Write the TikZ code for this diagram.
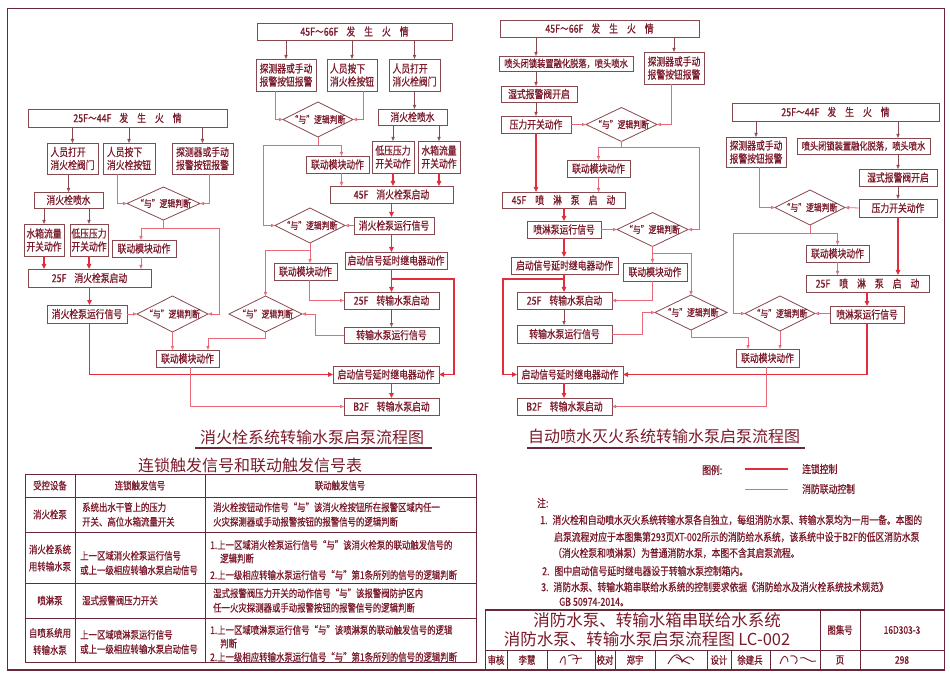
\documentclass[tikz,border=0pt]{standalone}
\usepackage{fontspec}
\setmainfont{Noto Sans CJK SC}
\newfontfamily\cnc[FakeStretch=0.8,FakeBold=0.7]{Noto Sans CJK SC}
\usetikzlibrary{arrows.meta,shapes.geometric,calc}
\definecolor{txt}{RGB}{122,26,42}
\definecolor{bline}{RGB}{135,72,78}
\definecolor{rd}{RGB}{228,45,60}
\definecolor{pk}{RGB}{232,105,120}
\definecolor{frm}{RGB}{105,40,55}
\tikzset{
 box/.style={draw=bline, line width=0.8pt, inner sep=0pt, outer sep=0pt, text=txt, font=\cnc\fontsize{11}{13}\selectfont, align=center},
 dia/.style={draw=bline, line width=0.8pt, shape=diamond, inner sep=0pt, outer sep=0pt},
 dtxt/.style={text=txt, font=\cnc\fontsize{9.8}{11}\selectfont, inner sep=0pt},
 pline/.style={draw=pk, line width=0.8pt, -{Triangle[open,length=4pt,width=3.2pt]}},
 barr/.style={draw=bline, line width=0.8pt, -{Triangle[open,length=4pt,width=3.2pt]}},
 rline/.style={draw=rd, line width=1.8pt, -{Triangle[length=5pt,width=4.5pt]}},
 ttl/.style={text=txt, font=\fontsize{16}{18}\selectfont, inner sep=0pt},
 tb/.style={text=txt, font=\cnc\fontsize{10.5}{14.5}\selectfont, inner sep=0pt, align=left},
 nt/.style={text=txt, font=\cnc\fontsize{11}{14}\selectfont, inner sep=0pt, anchor=west},
 frmline/.style={draw=frm, line width=1pt},
 sig/.style={draw=txt, line width=0.9pt},
}
\newcommand\mybox[7][]{\node[box,#1,minimum width={#5-#3},minimum height={#6-#4}] (#2) at ({(#3+#5)/2},{(#4+#6)/2}) {#7};}
\newcommand\mydia[5]{\node[dia,minimum width=#4,minimum height=#5] (#1) at (#2,#3) {};\node[dtxt] (#1t) at (#1) {“与”逻辑判断};}
\newcommand\fire[1]{#1\hspace{8pt}发\hspace{9pt}生\hspace{9pt}火\hspace{9pt}情}
\begin{document}
\begin{tikzpicture}[x=1pt,y=-1pt]
\useasboundingbox (0,0) rectangle (950,676);
% frame
\draw[frmline] (7,669) -- (7,9) -- (944,9) -- (944,669);
\draw[draw=frm, line width=2pt] (7,669.5) -- (945,669.5);

%================ LEFT CHART =================
\mybox{L0}{257}{23}{452}{40}{\fire{45F～66F}}
\mybox{La1}{256}{59}{316}{91}{探测器或手动\\报警按钮报警}
\mybox[align=left]{La2}{327}{59}{377}{91}{人员按下\\消火栓按钮}
\mybox[align=left]{La3}{389}{59}{440}{91}{人员打开\\消火栓阀门}
\mybox{La4}{378}{109}{447}{125}{消火栓喷水}
\mybox{La5}{372}{141}{414}{173}{低压压力\\开关动作}
\mybox{La6}{418}{141}{460}{173}{水箱流量\\开关动作}
\mybox{La7}{306}{156}{369}{173}{联动模块动作}
\mybox{La8}{330}{186}{453}{203}{45F\hspace{8pt}消火栓泵启动}
\mybox{La9}{354}{217}{434}{234}{消火栓泵运行信号}
\mybox{La10}{345}{252}{447}{269}{启动信号延时继电器动作}
\mybox{La11}{274}{263}{337}{280}{联动模块动作}
\mybox{La12}{344}{292}{439}{309}{25F\hspace{8pt}转输水泵启动}
\mybox{La13}{344}{327}{439}{343}{转输水泵运行信号}
\mydia{Ld1}{318}{119.5}{70}{35}
\mydia{Ld2}{310}{225.5}{70}{35}
\mydia{Ld3}{265.5}{314}{73}{36}

\mybox{Lb0}{28}{109}{227}{127}{\fire{25F～44F}}
\mybox[align=left]{Lb2}{47}{143}{98}{174}{人员打开\\消火栓阀门}
\mybox[align=left]{Lb3}{103}{143}{155}{174}{人员按下\\消火栓按钮}
\mybox{Lb4}{172}{143}{233}{174}{探测器或手动\\报警按钮报警}
\mybox{Lb5}{34}{192}{103}{208}{消火栓喷水}
\mydia{Ldb1}{163.5}{203.5}{73}{33}
\mybox{Lb6}{24}{224}{64}{256}{水箱流量\\开关动作}
\mybox{Lb7}{70}{224}{108}{256}{低压压力\\开关动作}
\mybox{Lb8}{112}{240}{176}{257}{联动模块动作}
\mybox{Lb9}{28}{269}{151}{287}{25F\hspace{8pt}消火栓泵启动}
\mybox{Lb10}{47}{305}{127}{323}{消火栓泵运行信号}
\mydia{Ldb2}{172.5}{314}{71}{36}
\mybox{Lb11}{156}{350}{219}{367}{联动模块动作}
\mybox{Lc1}{333}{366}{439}{383}{启动信号延时继电器动作}
\mybox{Lc2}{344}{398}{439}{415}{B2F\hspace{8pt}转输水泵启动}

% brown arrows
\draw[barr] (La1 |- L0.south) -- (La1.north);
\draw[barr] (La2 |- L0.south) -- (La2.north);
\draw[barr] (La3 |- L0.south) -- (La3.north);
\draw[barr] (La3.south) -- (La3.south |- La4.north);
\draw[barr] (La5 |- La4.south) -- (La5.north);
\draw[barr] (La6 |- La4.south) -- (La6.north);
\draw[barr] (Lb2 |- Lb0.south) -- (Lb2.north);
\draw[barr] (Lb3 |- Lb0.south) -- (Lb3.north);
\draw[barr] (Lb4 |- Lb0.south) -- (Lb4.north);
\draw[barr] (Lb5 |- Lb2.south) -- (Lb5.north);
\draw[barr] (Lb6 |- Lb5.south) -- (Lb6.north);
\draw[barr] (Lb7 |- Lb5.south) -- (Lb7.north);
\draw[barr] (La12.south -| La8) -- (La8 |- La13.north);

% thick red
\draw[rline] (La5.south) -- (La5.south |- La8.north);
\draw[rline] (La6.south) -- (La6.south |- La8.north);
\draw[rline] (La8.south) -- (La8.south |- La9.north);
\draw[rline] (La9.south -| La8) -- (La8 |- La10.north);
\draw[rline] (La10.south -| La8) -- (La8 |- La12.north);
\coordinate (cR1) at (454,279);
\draw[rline] (La8 |- cR1) -- (cR1) |- (Lc1.east);
\draw[rline] (Lc1.south -| La8) -- (La8 |- Lc2.north);
\draw[rline] (Lb6.south) -- (Lb6.south |- Lb9.north);
\draw[rline] (Lb7.south) -- (Lb7.south |- Lb9.north);
\draw[rline] (Lb9.south) -- (Lb9.south |- Lb10.north);
\draw[rline] (Lb10.south -| Lb9) |- (Lc1.west);

% pink
\coordinate (cL1) at (263,145);
\draw[pline] ([xshift=-11]La1.south) |- (Ld1.west);
\draw[pline] ([xshift=11]La2.south) |- (Ld1.east);
\draw[pline] (Ld1.south) |- (cL1) |- (Ld2.west);
\draw[pline] (cL1 -| Ld1.south) -| ([xshift=4]La7.north);
\draw[pline] ([xshift=4]La7.south) -- ([xshift=4]La7.south |- La8.north);
\draw[pline] (La9.west) -- (Ld2.east);
\coordinate (cL2) at (266,250);
\draw[pline] (Ld2.south) -- (Ld2.south |- La11.north);
\draw[pline] (cL2 -| Ld2.south) -| (Ld3.north);
\draw[pline] ([xshift=4]La11.south) |- (La12.west);
\coordinate (cL3) at (315,314);
\draw[pline] (La13.west) -| (cL3) -- (Ld3.east);
\coordinate (cL4) at (208,338);
\draw[pline] (Ld3.south) |- (cL4) -- (cL4 |- Lb11.north);
\coordinate (cL5) at (141,228);
\coordinate (cL6) at (219,228);
\draw[pline] (Ldb1.south) |- (cL5) -- (cL5 |- Lb8.north);
\draw[pline] (cL5 -| Ldb1.south) -- (cL6) |- (Ldb2.east);
\draw[pline] (cL5 |- Lb8.south) -- (cL5 |- Lb9.north);
\draw[pline] ([xshift=-12]Lb3.south) |- (Ldb1.west);
\draw[pline] ([xshift=6.5]Lb4.south) |- (Ldb1.east);
\draw[pline] (Lb10.east) -- (Ldb2.west);
\draw[pline] (Ldb2.south) -- (Ldb2.south |- Lb11.north);
\draw[pline] ([xshift=3]Lb11.south) |- (Lc2.west);

%================ RIGHT CHART =================
\mybox{R0}{500}{20}{699}{37}{\fire{45F～66F}}
\mybox{Ra1}{499}{56}{633}{71}{\fontsize{10.3}{12}\selectfont 喷头闭锁装置融化脱落，喷头喷水}
\mybox{Ra2}{644}{52}{704}{84}{探测器或手动\\报警按钮报警}
\mybox{Ra3}{501}{86}{577}{102}{湿式报警阀开启}
\mybox{Ra4}{501}{116}{571}{133}{压力开关动作}
\mydia{Rd1}{621.5}{124.5}{71}{34}
\mybox{Ra5}{567}{160}{630}{177}{联动模块动作}
\mybox{Ra6}{502}{192}{625}{208}{45F\hspace{9pt}喷\hspace{9pt}淋\hspace{9pt}泵\hspace{9pt}启\hspace{9pt}动}
\mybox{Ra7}{527}{221}{601}{238}{喷淋泵运行信号}
\mydia{Rd2}{652.5}{229.5}{71}{34}
\mybox{Ra8}{511}{257}{618}{274}{启动信号延时继电器动作}
\mybox{Ra9}{623}{263}{687}{281}{联动模块动作}
\mybox{Ra10}{517}{292}{612}{309}{25F\hspace{8pt}转输水泵启动}
\mybox{Ra11}{517}{325}{612}{343}{转输水泵运行信号}
\mydia{Rd3}{691}{312.5}{72}{35}
\mybox{Ra12}{517}{366}{623}{383}{启动信号延时继电器动作}
\mybox{Ra13}{517}{398}{612}{415}{B2F\hspace{8pt}转输水泵启动}

\mybox{Rb0}{732}{103}{939}{121}{\fire{25F～44F}}
\mybox{Rb2}{726}{137}{786}{167}{探测器或手动\\报警按钮报警}
\mybox{Rb3}{797}{138}{930}{154}{\fontsize{10.3}{12}\selectfont 喷头闭锁装置融化脱落，喷头喷水}
\mybox{Rb4}{859}{169}{937}{186}{湿式报警阀开启}
\mybox{Rb5}{859}{199}{937}{217}{压力开关动作}
\mydia{Rd5}{810}{207.5}{70}{35}
\mybox{Rb6}{806}{245}{869}{262}{联动模块动作}
\mybox{Rb8}{806}{275}{929}{292}{25F\hspace{9pt}喷\hspace{9pt}淋\hspace{9pt}泵\hspace{9pt}启\hspace{9pt}动}
\mybox{Rb9}{830}{306}{904}{323}{喷淋泵运行信号}
\mydia{Rd4}{780}{313.5}{70}{35}
\mybox{Rb7}{736}{349}{799}{367}{联动模块动作}

% brown
\draw[barr] (Ra4 |- R0.south) -- (Ra4 |- Ra1.north);
\draw[barr] (Ra2 |- R0.south) -- (Ra2.north);
\draw[barr] (Ra4 |- Ra1.south) -- (Ra4 |- Ra3.north);
\draw[barr] (Ra4 |- Ra3.south) -- (Ra4.north);
\draw[barr] (Rb2 |- Rb0.south) -- (Rb2.north);
\draw[barr] (Rb4 |- Rb0.south) -- (Rb4 |- Rb3.north);
\draw[barr] (Rb4 |- Rb3.south) -- (Rb4.north);
\draw[barr] (Rb4.south) -- (Rb5.north);
\draw[barr] (Ra10.south -| Ra7) -- (Ra7 |- Ra11.north);

% thick red
\draw[rline] (Ra4.south) -- (Ra4.south |- Ra6.north);
\draw[rline] (Ra7 |- Ra6.south) -- (Ra7.north);
\draw[rline] (Ra7.south) -- (Ra7.south |- Ra8.north);
\draw[rline] (Ra7 |- Ra8.south) -- (Ra7 |- Ra10.north);
\coordinate (cR2) at (503,279);
\draw[rline] (Ra7 |- cR2) -- (cR2) |- (Ra12.west);
\draw[rline] (Ra7 |- Ra12.south) -- (Ra7 |- Ra13.north);
\draw[rline] (Rb5.south) -- (Rb5.south |- Rb8.north);
\draw[rline] (Rb9 |- Rb8.south) -- (Rb9.north);
\draw[rline] (Rb9.south) |- (Ra12.east);

% pink
\draw[pline] (Ra4.east) -- (Rd1.west);
\draw[pline] ([xshift=-3]Ra2.south) |- (Rd1.east);
\coordinate (cR3) at (699,147);
\draw[pline] (Rd1.south) |- (cR3) |- (Rd2.east);
\draw[pline] (cR3 -| Rd1.south) -| (Ra5.north);
\draw[pline] (Ra5.south) -- (Ra5.south |- Ra6.north);
\draw[pline] (Ra7.east) -- (Rd2.west);
\coordinate (cR4) at (691,253);
\draw[pline] (Rd2.south) -- (Rd2.south |- Ra9.north);
\draw[pline] (cR4 -| Rd2.south) -| (Rd3.north);
\draw[pline] ([xshift=-3]Ra9.south) |- (Ra10.east);
\coordinate (cR5) at (642,312.5);
\draw[pline] (Ra11.east) -| (cR5) -- (Rd3.west);
\coordinate (cR6) at (748,337);
\draw[pline] (Rd3.south) |- (cR6) -- (cR6 |- Rb7.north);
\draw[pline] (Rd4.south) -- (Rd4.south |- Rb7.north);
\draw[pline] ([xshift=-1.5]Rb7.south) |- (Ra13.east);
\draw[pline] ([xshift=3]Rb2.south) |- (Rd5.west);
\draw[pline] (Rb5.west) -- (Rd5.east);
\coordinate (cR7) at (733,233);
\draw[pline] (Rd5.south) |- (cR7) |- (Rd4.west);
\draw[pline] (cR7 -| Rd5.south) -| (Rb6.north);
\draw[pline] (Rb6.south) -- (Rb6.south |- Rb8.north);
\draw[pline] (Rb9.west |- Rd4.east) -- (Rd4.east);

% titles
\node[ttl] (T1) at (312,437) {消火栓系统转输水泵启泵流程图};
\draw[draw=frm, line width=1.3pt] (195,448) -- (432,448);
\node[ttl] (T2) at (664,436) {自动喷水灭火系统转输水泵启泵流程图};
\draw[draw=frm, line width=1.3pt] (527,448) -- (805,448);

% legend
\node[nt] (lg0) at (702,470) {图例:};
\draw[draw=rd, line width=1.8pt] (745,469) -- (788,469);
\node[nt] (lg1) at (802,469) {连锁控制};
\draw[draw=pk, line width=0.8pt] (745,489) -- (788,489);
\node[nt] (lg2) at (802,489) {消防联动控制};

% notes
\node[nt] (n0) at (537,503) {注:};
\node[nt] (n1) at (540,520) {1.\hspace{5pt}消火栓和自动喷水灭火系统转输水泵各自独立，每组消防水泵、转输水泵均为一用一备。本图的};
\node[nt] (n1b) at (554,537) {启泵流程对应于本图集第293页XT-002所示的消防给水系统，该系统中设于B2F的低区消防水泵};
\node[nt] (n1c) at (553,553) {（消火栓泵和喷淋泵）为普通消防水泵，本图不含其启泵流程。};
\node[nt] (n2) at (542,571) {2.\hspace{5pt}图中启动信号延时继电器设于转输水泵控制箱内。};
\node[nt] (n3) at (541,587) {3.\hspace{5pt}消防水泵、转输水箱串联给水系统的控制要求依据《消防给水及消火栓系统技术规范》};
\node[nt] (n3b) at (559,602) {GB 50974-2014。};

% table
\node[ttl] (TT) at (250,465) {连锁触发信号和联动触发信号表};
\draw[frmline] (25,474) rectangle (476,662);
\draw[frmline] (75,474) -- (75,662) (205,474) -- (205,662);
\draw[frmline] (25,497) -- (476,497) (25,532) -- (476,532) (25,583) -- (476,583) (25,618) -- (476,618);
\node[tb] (h1) at (50,485.5) {受控设备};
\node[tb] (h2) at (140,485.5) {连锁触发信号};
\node[tb] (h3) at (340,485.5) {联动触发信号};
\node[tb] (r1a) at (50,514.5) {消火栓泵};
\node[tb,anchor=west] (r1b) at (82,514.5) {系统出水干管上的压力\\开关、高位水箱流量开关};
\node[tb,anchor=west] (r1c) at (213,514.5) {消火栓按钮动作信号“与”该消火栓按钮所在报警区域内任一\\火灾探测器或手动报警按钮的报警信号的逻辑判断};
\node[tb,align=center,font=\cnc\fontsize{10.5}{17}\selectfont] (r2a) at (50,558) {消火栓系统\\用转输水泵};
\node[tb,anchor=west] (r2b) at (80,563) {上一区域消火栓泵运行信号\\或上一级相应转输水泵启动信号};
\node[tb,anchor=west] (r2c1) at (210,545) {1.上一区域消火栓泵运行信号“与”该消火栓泵的联动触发信号的};
\node[tb,anchor=west] (r2c2) at (220,558.5) {逻辑判断};
\node[tb,anchor=west] (r2c3) at (210,575) {2.上一级相应转输水泵运行信号“与”第1条所列的信号的逻辑判断};
\node[tb] (r3a) at (50,600.5) {喷淋泵};
\node[tb,anchor=west] (r3b) at (82,600.5) {湿式报警阀压力开关};
\node[tb,anchor=west] (r3c) at (213,600.5) {湿式报警阀压力开关的动作信号“与”该报警阀防护区内\\任一火灾探测器或手动报警按钮的报警信号的逻辑判断};
\node[tb,align=center,font=\cnc\fontsize{10.5}{17}\selectfont] (r4a) at (50,641.5) {自喷系统用\\转输水泵};
\node[tb,anchor=west] (r4b) at (80,642) {上一区域喷淋泵运行信号\\或上一级相应转输水泵启动信号};
\node[tb,anchor=west] (r4c1) at (210,630) {1.上一区域喷淋泵运行信号“与”该喷淋泵的联动触发信号的逻辑};
\node[tb,anchor=west] (r4c2) at (220,643.5) {判断};
\node[tb,anchor=west] (r4c3) at (210,657) {2.上一级相应转输水泵运行信号“与”第1条所列的信号的逻辑判断};

% title block
\draw[draw=frm, line width=1.5pt] (485,610) -- (945,610);
\draw[frmline] (485,610) -- (485,669) (820,610) -- (820,669) (860,610) -- (860,669);
\draw[frmline] (485,650) -- (945,650);
\draw[frmline] (507,650) -- (507,669) (547,650) -- (547,669) (595,650) -- (595,669) (615,650) -- (615,669)
  (655,650) -- (655,669) (707,650) -- (707,669) (731,650) -- (731,669) (770,650) -- (770,669);
\node[ttl,font=\fontsize{16.5}{18}\selectfont] (tb1) at (657,620) {消防水泵、转输水箱串联给水系统};
\node[ttl,font=\fontsize{16.5}{18}\selectfont] (tb2) at (647,639) {消防水泵、转输水泵启泵流程图 LC-002};
\node[tb] (tb3) at (840,630) {图集号};
\node[tb] (tb4) at (902,630) {16D303-3};
\node[tb] (tb5) at (840,660) {页};
\node[tb] (tb6) at (902,660) {298};
\node[tb] (tb7) at (496,660) {审核};
\node[tb] (tb8) at (527,660) {李慧};
\node[tb] (tb9) at (605,660) {校对};
\node[tb] (tb10) at (635,660) {郑宇};
\node[tb] (tb11) at (719,660) {设计};
\node[tb] (tb12) at (750,660) {徐建兵};
% signatures
\draw[sig] (560,663) .. controls (563,654) and (566,654) .. (565,665);
\draw[sig] (568,656) .. controls (575,653) and (580,655) .. (576,664);
\draw[sig] (572,659) -- (582,658);
\draw[sig] (668,664) .. controls (674,652) and (680,652) .. (682,662) .. controls (686,656) and (690,655) .. (694,660);
\draw[sig] (676,657) -- (690,664);
\draw[sig] (780,664) .. controls (783,654) and (787,654) .. (788,662);
\draw[sig] (790,656) .. controls (796,654) and (800,660) .. (795,664);
\draw[sig] (800,658) .. controls (805,655) and (810,664) .. (816,661);
\end{tikzpicture}
\end{document}
